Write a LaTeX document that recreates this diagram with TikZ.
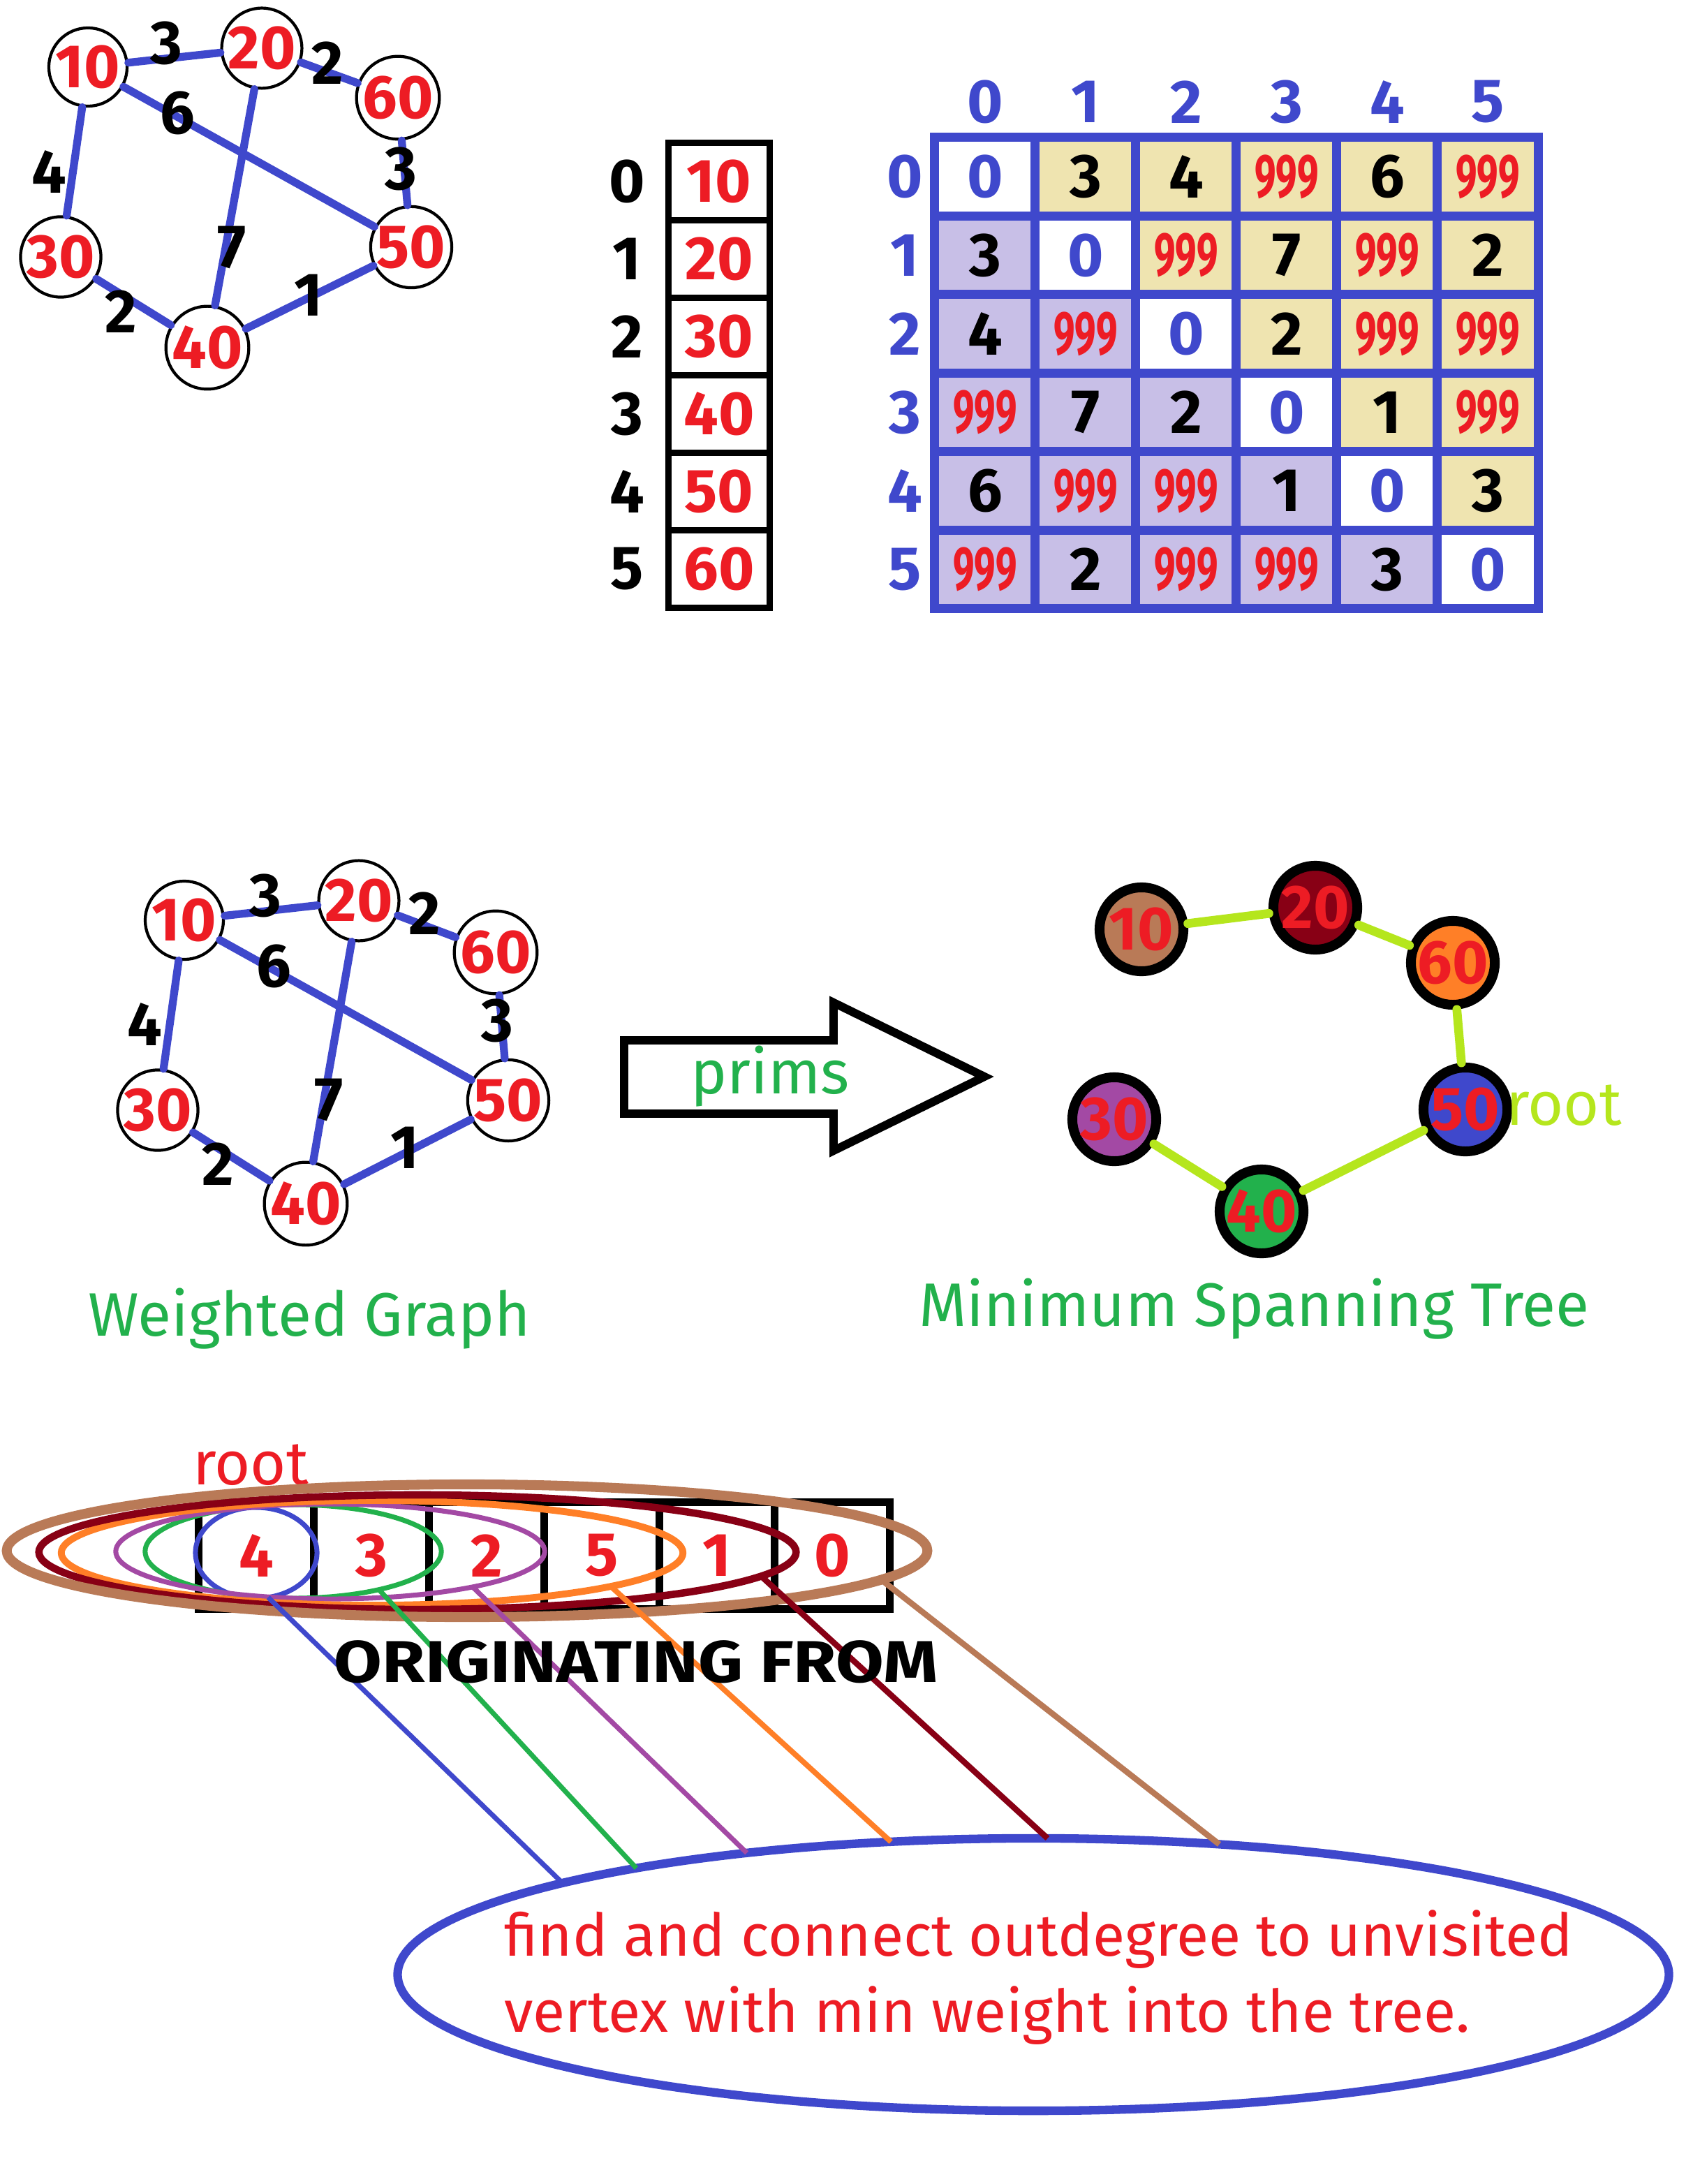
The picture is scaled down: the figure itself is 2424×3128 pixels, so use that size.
\documentclass[tikz,border=0pt]{standalone}
\usepackage{fontspec}
\setmainfont{Fira Sans}
\usetikzlibrary{shapes.geometric}
\definecolor{pblue}{HTML}{3F48CC}
\definecolor{pred}{HTML}{ED1C24}
\definecolor{pgreen}{HTML}{22B14C}
\definecolor{ppurple}{HTML}{A349A4}
\definecolor{porange}{HTML}{FF7F27}
\definecolor{pdarkred}{HTML}{880015}
\definecolor{pbrown}{HTML}{B97A57}
\definecolor{plime}{HTML}{B5E61D}
\definecolor{ptan}{HTML}{EFE4B0}
\definecolor{plav}{HTML}{C8BFE7}
\newcommand{\noedge}{\textcolor{pred}{\scalebox{0.62}[1]{999}}}
\tikzset{
	big/.style={font=\fontsize{25}{30}\selectfont\bfseries},
	vertex/.style={circle, draw=black, line width=1.2pt, minimum size=1.12cm, inner sep=0pt, text=pred, big},
	wedge/.style={pblue, line width=3.2pt, line cap=round},
	weight/.style={big, text=black},
	treenode/.style={circle, draw=black, line width=4pt, minimum size=1.2cm, inner sep=0pt, text=pred, big},
	treeedge/.style={plime, line width=3.6pt, line cap=round},
	cell/.style={draw=pblue, line width=3.7pt, minimum width=1.44cm, minimum height=1.125cm, inner sep=0pt, big},
	idxcell/.style={draw=black, line width=2.8pt, minimum width=1.45cm, minimum height=1.11cm, inner sep=0pt, text=pred, big},
	ordcell/.style={draw=black, line width=3pt, minimum width=1.65cm, minimum height=1.53cm, inner sep=0pt, text=pred, big},
	ring/.style={ellipse, draw=#1, inner sep=0pt, outer sep=0pt},
	caption/.style={text=pgreen, font=\fontsize{25}{30}\selectfont},
}
\begin{document}
\begin{tikzpicture}[x=0.01cm, y=-0.01cm]
	\useasboundingbox (0,0) rectangle (2424,3128);
	% weighted graph, top
	\node[vertex] (a10) at (126,96) {10};
	\node[vertex] (a20) at (375,69) {20};
	\node[vertex] (a60) at (570,140) {60};
	\node[vertex] (a30) at (87,368) {30};
	\node[vertex] (a50) at (589,354) {50};
	\node[vertex] (a40) at (297,498) {40};
	\draw[wedge] (a10) -- (a20);
	\draw[wedge] (a20) -- (a60);
	\draw[wedge] (a10) -- (a50);
	\draw[wedge] (a10) -- (a30);
	\draw[wedge] (a20) -- (a40);
	\draw[wedge] (a60) -- (a50);
	\draw[wedge] (a30) -- (a40);
	\draw[wedge] (a40) -- (a50);
	\node[weight] (wa1) at (238,62) {3};
	\node[weight] (wa2) at (469,90) {2};
	\node[weight] (wa3) at (254,162) {6};
	\node[weight] (wa4) at (70,246) {4};
	\node[weight] (wa5) at (574,242) {3};
	\node[weight] (wa6) at (332,354) {7};
	\node[weight] (wa7) at (173,446) {2};
	\node[weight] (wa8) at (442,423) {1};
	% index column
	\foreach \v [count=\i from 0] in {10,20,30,40,50,60} {
		\node[big] (idx\i) at (898,260+111*\i) {\i};
		\node[idxcell] (val\i) at (1030,260+111*\i) {\v};
	}
	% adjacency matrix
	\foreach \j in {0,...,5} {
		\node[big, text=pblue] (col\j) at (1411+144*\j,146) {\j};
		\node[big, text=pblue] (row\j) at (1296,253+112.5*\j) {\j};
	}
	\foreach \rowvals [count=\i from 0] in {{0,3,4,999,6,999},{3,0,999,7,999,2},{4,999,0,2,999,999},{999,7,2,0,1,999},{6,999,999,1,0,3},{999,2,999,999,3,0}} {
		\foreach \v [count=\j from 0] in \rowvals {
			\ifnum\j>\i \def\cellfill{ptan}\def\celltext{black}\fi
			\ifnum\j<\i \def\cellfill{plav}\def\celltext{black}\fi
			\ifnum\j=\i \def\cellfill{white}\def\celltext{pblue}\fi
			\node[cell, fill=\cellfill, text=\celltext] (m\i\j) at (1411+144*\j,253+112.5*\i) {\ifnum\v=999 \noedge\else\v\fi};
		}
	}
	% weighted graph, middle
	\node[vertex] (b10) at (264,1318) {10};
	\node[vertex] (b20) at (514,1290) {20};
	\node[vertex] (b60) at (710,1364) {60};
	\node[vertex] (b30) at (226,1590) {30};
	\node[vertex] (b50) at (728,1576) {50};
	\node[vertex] (b40) at (438,1724) {40};
	\draw[wedge] (b10) -- (b20);
	\draw[wedge] (b20) -- (b60);
	\draw[wedge] (b10) -- (b50);
	\draw[wedge] (b10) -- (b30);
	\draw[wedge] (b20) -- (b40);
	\draw[wedge] (b60) -- (b50);
	\draw[wedge] (b30) -- (b40);
	\draw[wedge] (b40) -- (b50);
	\node[weight] (wb1) at (380,1283) {3};
	\node[weight] (wb2) at (608,1308) {2};
	\node[weight] (wb3) at (392,1384) {6};
	\node[weight] (wb4) at (207,1467) {4};
	\node[weight] (wb5) at (712,1462) {3};
	\node[weight] (wb6) at (471,1575) {7};
	\node[weight] (wb7) at (312,1667) {2};
	\node[weight] (wb8) at (580,1644) {1};
	\node[caption] (cap1) at (443,1889) {Weighted Graph};
	% hollow arrow
	\draw[line width=3.4pt] (894,1490) -- (1194,1490) -- (1194,1436) -- (1410,1542) -- (1194,1648) -- (1194,1595) -- (894,1595) -- cycle;
	\node[caption] (prims) at (1103,1542) {prims};
	% spanning tree
	\node[treenode, fill=pbrown] (t10) at (1635,1331) {10};
	\node[treenode, fill=pdarkred] (t20) at (1884,1300) {20};
	\node[treenode, fill=porange] (t60) at (2081,1379) {60};
	\node[treenode, fill=pblue] (t50) at (2099,1589) {50};
	\node[treenode, fill=ppurple] (t30) at (1596,1603) {30};
	\node[treenode, fill=pgreen] (t40) at (1807,1735) {40};
	\draw[treeedge] (t10) -- (t20);
	\draw[treeedge] (t20) -- (t60);
	\draw[treeedge] (t60) -- (t50);
	\draw[treeedge] (t50) -- (t40);
	\draw[treeedge] (t40) -- (t30);
	\node[caption, text=plime] (troot) at (2240,1583) {root};
	\node[caption] (cap2) at (1796,1875) {Minimum Spanning Tree};
	% visiting order
	\node[caption, text=pred] (oroot) at (359,2098) {root};
	\foreach \v [count=\k from 0] in {4,3,2,5,1,0}
		\node[ordcell] (o\k) at (367+165*\k,2228) {\v};
	\node[ring=pblue, line width=2pt, minimum width=1.74cm, minimum height=1.3cm] (s1) at (367,2224) {};
	\node[ring=pgreen, line width=2pt, minimum width=4.24cm, minimum height=1.34cm] (s2) at (420,2222) {};
	\node[ring=ppurple, line width=2pt, minimum width=6.14cm, minimum height=1.36cm] (s3) at (473,2222) {};
	\node[ring=porange, line width=2.8pt, minimum width=8.9cm, minimum height=1.5cm] (s4) at (533,2224) {};
	\node[ring=pdarkred, line width=3pt, minimum width=10.84cm, minimum height=1.64cm] (s5) at (598,2223) {};
	\node[ring=pbrown, line width=4pt, minimum width=13.18cm, minimum height=1.9cm] (s6) at (669,2221) {};
	\node[ring=pblue, line width=3.5pt, minimum width=18.2cm, minimum height=3.9cm] (rule) at (1480,2828) {};
	\draw[pblue, line width=2pt] (s1.285) -- (rule.169);
	\draw[pgreen, line width=2pt] (s2.-24) -- (rule.165);
	\draw[ppurple, line width=2pt] (s3.-14) -- (rule.157);
	\draw[porange, line width=2.2pt] (s4.-8) -- (rule.137);
	\draw[pdarkred, line width=2.4pt] (s5.-4) -- (rule.84);
	\draw[pbrown, line width=2.4pt] (s6.-4) -- (rule.35);
	\node[font=\fontsize{24}{30}\selectfont\bfseries] (origin) at (911,2380) {\scalebox{1.18}[1]{ORIGINATING FROM}};
	\node[text=pred, align=left, anchor=west, font=\fontsize{24}{31}\selectfont] (ruletext) at (710,2832) {find and connect outdegree to unvisited\\vertex with min weight into the tree.};
\end{tikzpicture}
\end{document}
